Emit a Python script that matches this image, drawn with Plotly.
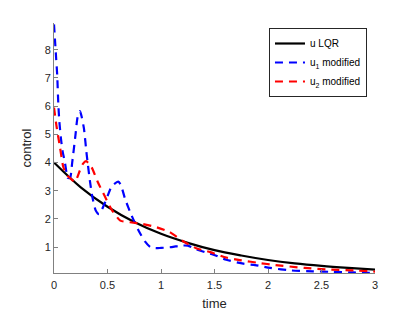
import plotly.graph_objects as go

# LQR control
t_lqr = [0, 0.25, 0.5, 0.75, 1.0, 1.25, 1.5, 1.75, 2.0, 2.25, 2.5, 2.75, 3.0]
u_lqr = [4.0, 3.12, 2.43, 1.89, 1.47, 1.15, 0.89, 0.70, 0.54, 0.42, 0.33, 0.26, 0.20]

# u1 modified
t_u1 = [0, 0.01, 0.02, 0.03, 0.04, 0.05, 0.065, 0.08, 0.1, 0.13, 0.15, 0.17, 0.2, 0.22,
        0.243, 0.26, 0.28, 0.305, 0.336, 0.36, 0.39, 0.42, 0.45, 0.49, 0.54, 0.6, 0.625,
        0.665, 0.725, 0.79, 0.85, 0.9, 0.95, 1.0, 1.1, 1.18, 1.25, 1.33, 1.41, 1.49, 1.61,
        1.77, 1.88, 2.02, 2.22, 2.42, 2.61, 2.8, 3.0]
u_u1 = [8.9, 8.3, 7.7, 7.1, 6.1, 5.45, 4.85, 4.4, 4.05, 3.45, 3.45, 4.0, 4.95, 5.6,
        5.82, 5.6, 5.2, 4.3, 3.34, 2.75, 2.3, 2.17, 2.35, 2.7, 3.16, 3.32, 3.2,
        2.7, 2.12, 1.59, 1.2, 1.0, 0.96, 0.97, 1.0, 1.05, 1.05, 0.92, 0.82, 0.73, 0.55,
        0.41, 0.36, 0.26, 0.17, 0.14, 0.12, 0.1, 0.08]

# u2 modified
t_u2 = [0, 0.025, 0.056, 0.087, 0.12, 0.15, 0.196, 0.24, 0.27, 0.3, 0.35, 0.41, 0.475,
        0.54, 0.62, 0.71, 0.83, 0.96, 1.08, 1.21, 1.33, 1.46, 1.61, 1.75, 1.93, 2.05,
        2.34, 2.59, 2.8, 3.0]
u_u2 = [5.95, 5.25, 4.54, 3.84, 3.55, 3.45, 3.32, 3.7, 3.95, 4.05, 3.84, 3.3, 2.8,
        2.32, 1.94, 1.88, 1.82, 1.7, 1.53, 1.2, 0.96, 0.82, 0.63, 0.53, 0.43, 0.37,
        0.26, 0.2, 0.17, 0.13]

x_ticks = [0, 0.5, 1, 1.5, 2, 2.5, 3]
x_tick_labels = ["0", "0.5", "1", "1.5", "2", "2.5", "3"]
y_ticks = [1, 2, 3, 4, 5, 6, 7, 8]
y_tick_labels = ["1", "2", "3", "4", "5", "6", "7", "8"]

fig = go.Figure()
fig.add_trace(go.Scatter(x=t_lqr, y=u_lqr, mode="lines", name="u LQR",
                         line=dict(color="black", width=2.2, shape="spline")))
fig.add_trace(go.Scatter(x=t_u1, y=u_u1, mode="lines", name="u<sub>1</sub> modified",
                         line=dict(color="blue", width=2.2, dash="8px,6px", shape="spline", smoothing=0.6)))
fig.add_trace(go.Scatter(x=t_u2, y=u_u2, mode="lines", name="u<sub>2</sub> modified",
                         line=dict(color="red", width=2.2, dash="8px,6px", shape="spline", smoothing=0.6)))

axis_common = dict(showline=True, linecolor="#808080", linewidth=1, ticks="inside",
                   ticklen=4, tickcolor="#808080", showgrid=False, zeroline=False,
                   mirror=False, automargin=False, tickfont=dict(size=11, color="#262626"))

# page body adds an 8px offset; compensate so the plot area lands where the reference has it
fig.update_layout(
    width=407, height=304,
    margin=dict(l=46, r=40, t=15, b=39),
    paper_bgcolor="white", plot_bgcolor="white",
    font=dict(family="Liberation Sans, Arial, sans-serif", color="#262626"),
    xaxis=dict(range=[0, 3], tickvals=x_ticks, ticktext=x_tick_labels,
               ticklabelstandoff=2,
               title=dict(text="time", font=dict(size=13), standoff=8), **axis_common),
    yaxis=dict(range=[0.08, 8.95], tickvals=y_ticks, ticktext=y_tick_labels,
               title=dict(text="control", font=dict(size=13), standoff=10), **axis_common),
    legend=dict(x=0.975, y=0.98, xanchor="right", yanchor="top",
                bgcolor="white", bordercolor="#262626", borderwidth=1,
                font=dict(size=10, color="black"), tracegroupgap=0,
                itemwidth=30),
    showlegend=True,
)

fig.write_html("out.html")
